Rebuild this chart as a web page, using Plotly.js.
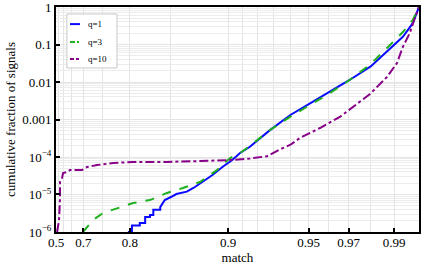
<!DOCTYPE html>
<html>
<head>
<meta charset="utf-8">
<script src="https://cdn.plot.ly/plotly-3.0.1.min.js"></script>
<style>html,body{margin:0;padding:0;background:#fff;}#chart{width:436px;height:270px;}</style>
</head>
<body>
<div id="chart"></div>
<script>
// ---- data (match, cumulative fraction) ----
const seriesNames = ['q=1', 'q=3', 'q=10'];

const matchQ1 = [0.797, 0.803, 0.803, 0.814, 0.814, 0.821, 0.821, 0.827, 0.827, 0.831, 0.831, 0.839, 0.839, 0.844, 0.851, 0.856, 0.866, 0.872, 0.880, 0.888, 0.896, 0.903, 0.9085, 0.915, 0.928, 0.940, 0.951, 0.961, 0.9706, 0.980, 0.9883, 0.9936, 0.9976, 1.0];
const fracQ1  = [1.0e-6, 1.0e-6, 1.5e-6, 1.5e-6, 1.75e-6, 1.75e-6, 2.5e-6, 2.5e-6, 2.85e-6, 2.85e-6, 3.9e-6, 3.9e-6, 4.6e-6, 7.1e-6, 8.7e-6, 1.03e-5, 1.19e-5, 1.49e-5, 2.19e-5, 3.3e-5, 5.5e-5, 8.3e-5, 1.28e-4, 1.85e-4, 5.2e-4, 1.32e-3, 2.75e-3, 5.5e-3, 1.15e-2, 2.6e-2, 7.8e-2, 0.16, 0.37, 1.0];

const matchQ3 = [0.699, 0.7286, 0.7523, 0.7793, 0.8046, 0.827, 0.8464, 0.8624, 0.8777, 0.8916, 0.9014, 0.9085, 0.9153, 0.928, 0.9398, 0.9507, 0.961, 0.9706, 0.9797, 0.9883, 0.9936, 0.9976, 1.0];
const fracQ3  = [1.0e-6, 2.09e-6, 3.21e-6, 4.37e-6, 5.93e-6, 7.1e-6, 1.1e-5, 1.49e-5, 2.15e-5, 4.5e-5, 9.4e-5, 1.28e-4, 2.0e-4, 5.25e-4, 1.17e-3, 2.44e-3, 5.09e-3, 1.15e-2, 2.9e-2, 9.7e-2, 0.215, 0.45, 1.0];

const matchQ10 = [0.5216, 0.554, 0.566, 0.566, 0.588, 0.5966, 0.6266, 0.6443, 0.6957, 0.7118, 0.7386, 0.7721, 0.8046, 0.8464, 0.8777, 0.9014, 0.9153, 0.9262, 0.934, 0.9398, 0.9453, 0.9559, 0.9658, 0.972, 0.9797, 0.987, 0.9912, 0.9936, 0.9964, 0.9984, 1.0];
const fracQ10  = [1.0e-6, 2.09e-6, 8.6e-6, 2.15e-5, 2.75e-5, 3.75e-5, 3.98e-5, 4.5e-5, 4.5e-5, 5.4e-5, 6.1e-5, 6.9e-5, 7.4e-5, 7.4e-5, 7.8e-5, 8.3e-5, 9.1e-5, 1.05e-4, 1.6e-4, 2.09e-4, 3.21e-4, 5.93e-4, 1.17e-3, 2.15e-3, 4.79e-3, 1.36e-2, 3.21e-2, 8.6e-2, 0.203, 0.51, 1.0];

const xTickValues = [0.5, 0.7, 0.8, 0.9, 0.95, 0.97, 0.99];
const xTickLabels = ['0.5', '0.7', '0.8', '0.9', '0.95', '0.97', '0.99'];
const xGridValues = [0.55, 0.6, 0.65, 0.7, 0.75, 0.8, 0.85, 0.9, 0.91, 0.92, 0.93, 0.94, 0.95, 0.96, 0.97, 0.98, 0.99];
const yTickValues = [1, 0.1, 0.01, 0.001, 1e-4, 1e-5, 1e-6];
const yTickLabels = ['1', '0.1', '0.01', '0.001', '10<sup>\u22124</sup>', '10<sup>\u22125</sup>', '10<sup>\u22126</sup>'];

// the match axis of the reference is linear in match^7
const warp = m => Math.pow(m, 7);

const colors = ['#0a0aff', '#1fb01f', '#880088'];
const dashes = ['solid', 'dash', 'dashdot'];
const matches = [matchQ1, matchQ3, matchQ10];
const fracs = [fracQ1, fracQ3, fracQ10];

const traces = seriesNames.map((name, i) => ({
  type: 'scatter', mode: 'lines', name: name, showlegend: false,
  x: matches[i].map(warp), y: fracs[i],
  line: {color: colors[i], width: 2, dash: dashes[i]}
}));

const FAM = 'Liberation Serif, Times New Roman, serif';

// compact legend (box, short line samples, labels) in plot-area coordinates
const legendBox = {x0: 0.030, x1: 0.168, y0: 0.729, y1: 0.969};
const legendRowsY = [0.924, 0.844, 0.769];
const shapes = [{
  type: 'rect', xref: 'paper', yref: 'paper',
  x0: legendBox.x0, x1: legendBox.x1, y0: legendBox.y0, y1: legendBox.y1,
  line: {color: '#c8c8c8', width: 1}, fillcolor: '#fff', layer: 'above'
}];
const annotations = [];
seriesNames.forEach((name, i) => {
  shapes.push({
    type: 'line', xref: 'paper', yref: 'paper',
    x0: 0.0386, x1: 0.0661, y0: legendRowsY[i], y1: legendRowsY[i],
    line: {color: colors[i], width: 2, dash: i === 0 ? 'solid' : (i === 1 ? '5px,2px,2px,2px' : '4px,2px,3px,2px')}, layer: 'above'
  });
  annotations.push({
    xref: 'paper', yref: 'paper', x: 0.0826, y: legendRowsY[i],
    xanchor: 'left', yanchor: 'middle', showarrow: false, text: name,
    font: {family: FAM, size: 9, color: '#000'}
  });
});

const layout = {
  width: 436, height: 270,
  margin: {l: 56, r: 17, t: 7, b: 38},
  paper_bgcolor: '#fff', plot_bgcolor: '#fff',
  showlegend: false,
  shapes: shapes, annotations: annotations,
  xaxis: {
    type: 'linear', range: [warp(0.5) - 0.0002, warp(1) + 0.0002],
    tickmode: 'array', tickvals: xTickValues.map(warp), ticktext: xTickLabels,
    ticks: 'inside', ticklen: 4, tickwidth: 2, tickcolor: '#000',
    ticklabeloverflow: 'allow', ticklabelstandoff: -3,
    showline: true, linecolor: '#000', linewidth: 2, mirror: true,
    showgrid: true, gridcolor: '#e4e4e4', gridwidth: 1,
    minor: {tickmode: 'array', tickvals: xGridValues.map(warp), showgrid: true, gridcolor: '#e4e4e4', gridwidth: 1, ticks: ''},
    zeroline: false,
    tickfont: {family: FAM, size: 13, color: '#000'},
    title: {text: 'match', font: {family: FAM, size: 13, color: '#000'}, standoff: 0}
  },
  yaxis: {
    type: 'log', range: [-6.0003, 0.0003],
    tickmode: 'array', tickvals: yTickValues, ticktext: yTickLabels,
    ticks: 'inside', ticklen: 4, tickwidth: 2, tickcolor: '#000',
    ticklabeloverflow: 'allow',
    showline: true, linecolor: '#000', linewidth: 2, mirror: true,
    showgrid: true, gridcolor: '#e4e4e4', gridwidth: 1,
    minor: {dtick: 'D1', showgrid: true, gridcolor: '#ececec', gridwidth: 1, ticks: ''},
    zeroline: false,
    tickfont: {family: FAM, size: 13, color: '#000'},
    title: {text: 'cumulative fraction of signals', font: {family: FAM, size: 13, color: '#000'}, standoff: 4}
  }
};

Plotly.newPlot('chart', traces, layout, {displayModeBar: false, staticPlot: true});
</script>
</body>
</html>
